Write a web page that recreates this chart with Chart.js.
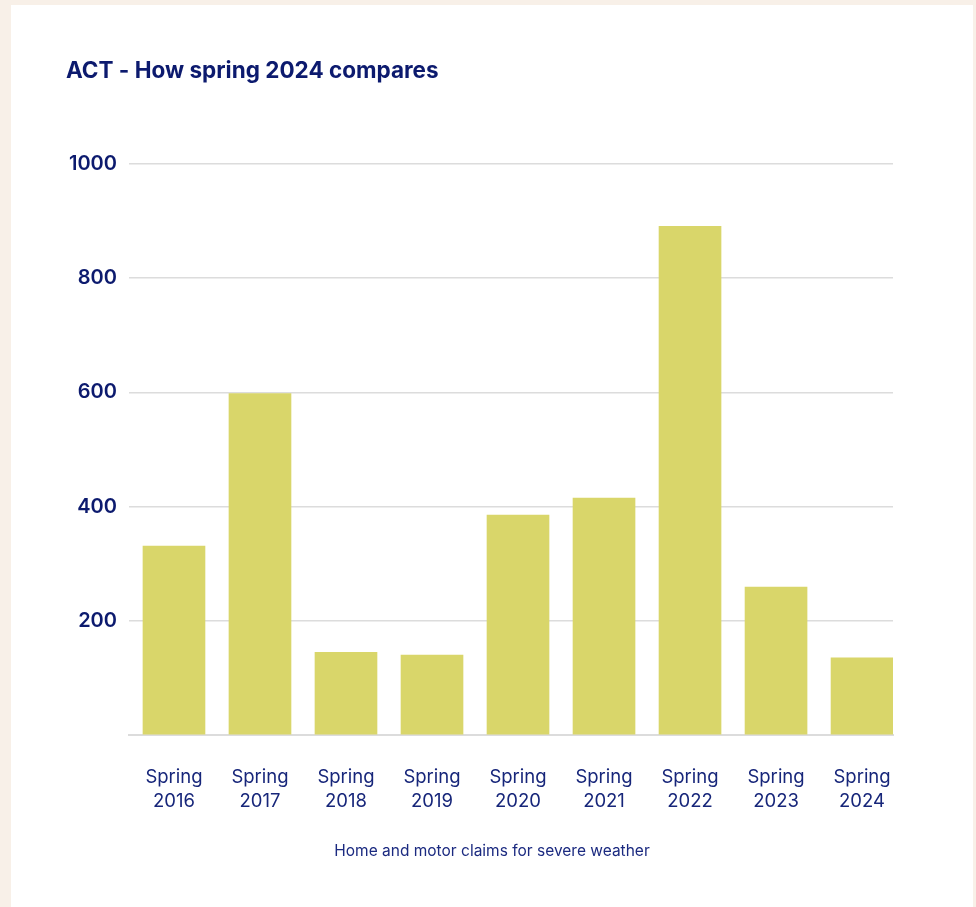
<!DOCTYPE html>
<html>
<head>
<meta charset="utf-8">
<script src="https://cdn.jsdelivr.net/npm/chart.js@4/dist/chart.umd.min.js"></script>
<style>
    html, body { margin: 0; padding: 0; }
    body { width: 976px; height: 907px; background: #f8f0e8; position: relative; overflow: hidden; }
    #card { position: absolute; left: 11px; top: 5px; width: 962px; height: 902px; background: #ffffff; }
    canvas { display: block; }
    #note {
        position: absolute; left: 0; right: 0; top: 836px; text-align: center;
        font: 15.5px Inter, "Noto Sans", sans-serif; color: #1b2a80; line-height: 20px;
    }
</style>
</head>
<body>
<div id="card">
    <canvas id="claimsChart" width="962" height="902"></canvas>
    <div id="note">Home and motor claims for severe weather</div>
</div>
<script>
    const seasons = ["Spring 2016", "Spring 2017", "Spring 2018", "Spring 2019", "Spring 2020",
        "Spring 2021", "Spring 2022", "Spring 2023", "Spring 2024"];
    const claims = [331, 598, 145, 140, 385, 415, 891, 259, 135];
    const yTicks = [200, 400, 600, 800, 1000];

    const navy = "#0c1a6e";
    const barColor = "#d9d66a";

    Chart.defaults.font.family = "Inter, 'Noto Sans', sans-serif";
    Chart.defaults.color = navy;

    new Chart(document.getElementById("claimsChart"), {
        type: "bar",
        data: {
            datasets: [{
                data: claims.map((v, i) => ({ x: i, y: v })),
                backgroundColor: barColor,
                borderWidth: 0,
                barThickness: 62
            }]
        },
        options: {
            responsive: false,
            animation: false,
            devicePixelRatio: 1,
            layout: { padding: { left: 55, right: 80, top: 53, bottom: 65 } },
            plugins: {
                legend: { display: false },
                tooltip: { enabled: false },
                title: {
                    display: true,
                    text: "ACT - How spring 2024 compares",
                    align: "start",
                    color: navy,
                    font: { size: 22.5, weight: 700, lineHeight: 1.2 },
                    padding: { top: 0, bottom: 79 }
                }
            },
            scales: {
                x: {
                    type: "linear",
                    offset: false,
                    min: -0.523,
                    max: 8.36,
                    afterFit: (s) => { s.height = 107; },
                    grid: { display: false, drawTicks: false },
                    border: { display: true, color: "#dcdcdc", width: 2 },
                    ticks: {
                        stepSize: 1,
                        includeBounds: false,
                        autoSkip: false,
                        maxRotation: 0,
                        padding: 30,
                        color: "#17267a",
                        font: { size: 18.5, lineHeight: 1.3 },
                        callback: (v) => Number.isInteger(v) && seasons[v] ? seasons[v].split(" ") : ""
                    }
                },
                y: {
                    min: 0,
                    max: 1000,
                    afterFit: (s) => { s.width = 63; },
                    afterBuildTicks: (s) => { s.ticks = [0, ...yTicks].map(v => ({ value: v })); },
                    grid: { color: "#dcdcdc", lineWidth: 1.5, drawTicks: false },
                    border: { display: false },
                    ticks: {
                        padding: 12,
                        color: navy,
                        font: { size: 20, weight: 600 },
                        callback: (v) => v === 0 ? "" : v
                    }
                }
            }
        }
    });
</script>
</body>
</html>
